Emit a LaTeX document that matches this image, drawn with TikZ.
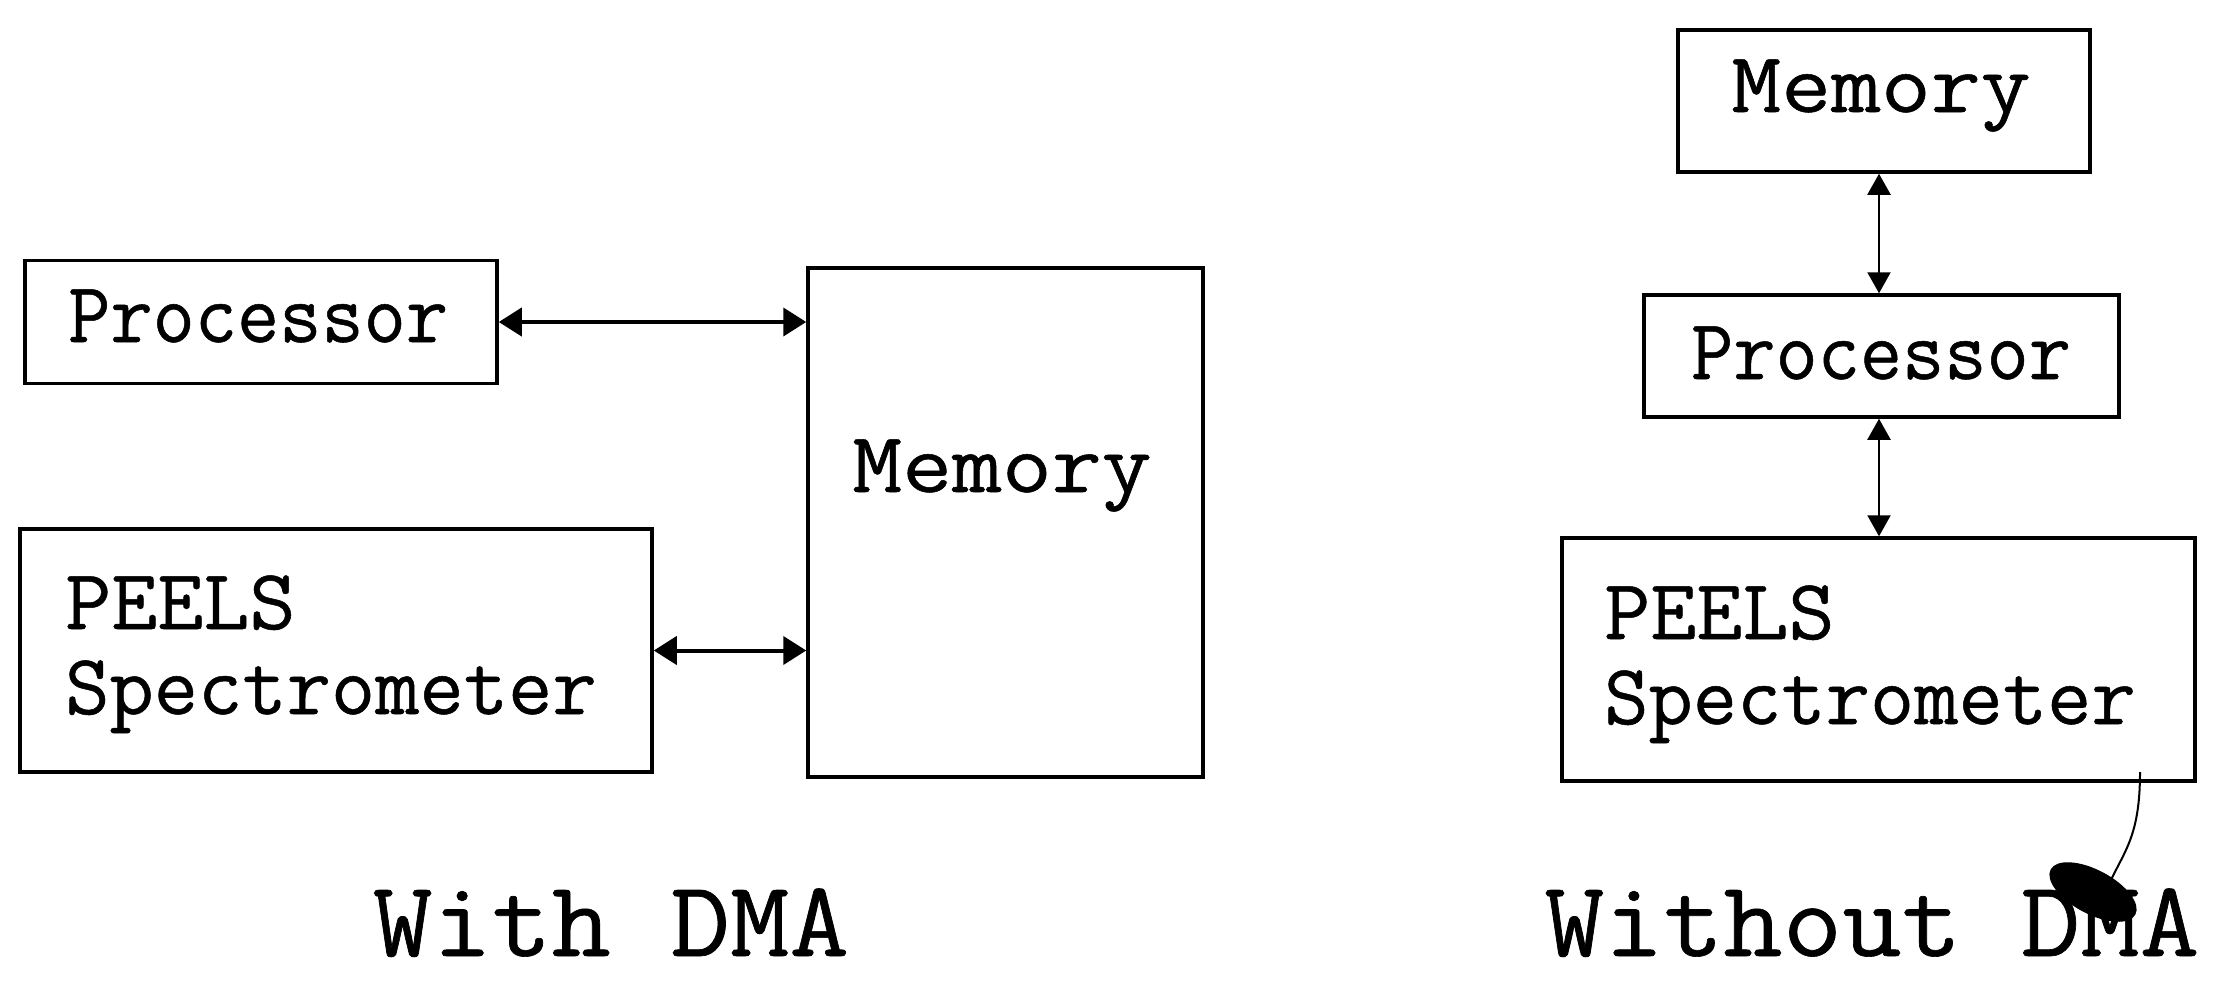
\documentclass[tikz,border=0pt]{standalone}
\usepackage{fontspec}
\newfontfamily\typewr{Latin Modern Mono}[FakeBold=0.6]
\usetikzlibrary{arrows.meta,calc}
\begin{document}
\begin{tikzpicture}[x=1pt,y=-1pt,
  box/.style={draw,line width=3.5pt,inner sep=0pt,minimum width=#1},
  lbl/.style={inner sep=0pt,font=\fontsize{86}{100}\selectfont\typewr},
  bigcaption/.style={inner sep=0pt,font=\fontsize{108}{128}\selectfont\typewr},
  harrow/.style={line width=4pt,{Triangle[length=23pt,width=28pt]}-{Triangle[length=23pt,width=28pt]}},
  varrow/.style={line width=2.2pt,{Triangle[length=21pt,width=23pt]}-{Triangle[length=21pt,width=23pt]}}
]
\path[use as bounding box] (0,0) rectangle (2216,980);

% ---------- With DMA ----------
\node[box=472pt,minimum height=123pt] (lproc) at (261,322) {};
\node[box=395pt,minimum height=509pt] (lmem) at (1005.5,522.5) {};
\node[box=632pt,minimum height=243pt] (lpeels) at (336,650.5) {};

\node[lbl,anchor=base west] (lproct) at (68,342) {\scalebox{0.953}[1]{Processor}};
\node[lbl,anchor=base] (lmemt) at (1002,492) {\scalebox{1.126}[1]{Memory}};
\node[lbl,anchor=base west] (lpeelst) at (65,629) {\scalebox{1.04}[1]{PEELS}};
\node[lbl,anchor=base west] (lspect) at (65,714) {Spectrometer};

\draw[harrow] (lproc.east) -- (lproc.east -| lmem.west);
\draw[harrow] (lpeels.east) -- (lpeels.east -| lmem.west);

\node[bigcaption,anchor=base] (with) at (611,956) {\scalebox{1.07}[1]{With DMA}};

% ---------- Without DMA ----------
\node[box=412pt,minimum height=142pt] (rmem) at (1884,101) {};
\node[box=475pt,minimum height=122pt] (rproc) at (1881.5,356) {};
\node[box=633pt,minimum height=243pt] (rpeels) at (1878.5,659.5) {};

\node[lbl,anchor=base] (rmemt) at (1881,112) {\scalebox{1.126}[1]{Memory}};
\node[lbl,anchor=base] (rproct) at (1881,379) {\scalebox{0.953}[1]{Processor}};
\node[lbl,anchor=base west] (rpeelst) at (1604,639) {\scalebox{1.04}[1]{PEELS}};
\node[lbl,anchor=base west] (rspect) at (1604,724) {Spectrometer};

\coordinate (a1) at ($(rmem.south)+(-5,0)$);
\draw[varrow] (a1) -- (a1 |- rproc.north);
\draw[varrow] (rproc.south -| a1) -- (a1 |- rpeels.north);

\node[bigcaption,anchor=base] (without) at (1872,956) {\scalebox{1.07}[1]{Without DMA}};

% scan mark
\draw[line width=2pt] (2140,772) .. controls (2140,835) and (2125,850) .. (2110,882);
\fill[rotate around={-28:(2093,892)}] (2093,892) ellipse (48pt and 22pt);
\end{tikzpicture}
\end{document}
